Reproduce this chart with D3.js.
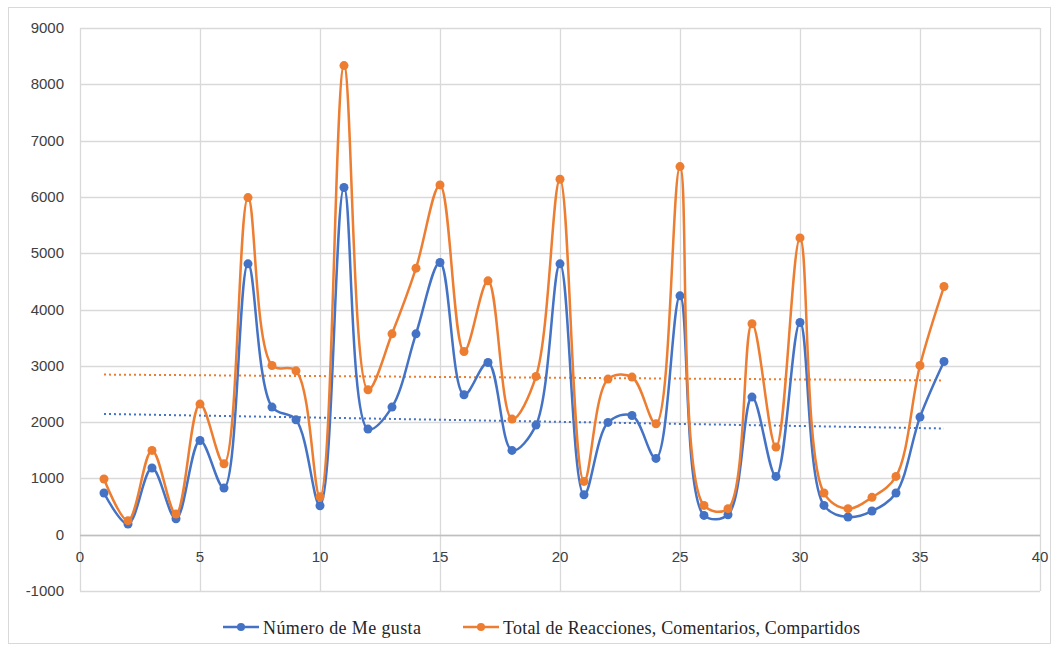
<!DOCTYPE html>
<html>
<head>
<meta charset="utf-8">
<script src="https://cdn.jsdelivr.net/npm/d3@7"></script>
<style>
    body { margin: 0; background: #fff; }
    svg { display: block; }
</style>
</head>
<body>
<div id="chart"></div>
<script>
var days = d3.range(1, 37);

var meGusta = [740, 190, 1184, 284, 1674, 829, 4811, 2267, 2041, 515,
    6166, 1876, 2267, 3568, 4834, 2485, 3059, 1497, 1947, 4811,
    710, 1994, 2118, 1355, 4243, 343, 355, 2444, 1035, 3769,
    520, 314, 420, 740, 2089, 3077];

var totalReacciones = [989, 249, 1497, 367, 2320, 1260, 5988, 3006, 2911, 675,
    8332, 2574, 3568, 4734, 6213, 3254, 4509, 2053, 2811, 6314,
    947, 2764, 2799, 1970, 6538, 520, 462, 3746, 1557, 5272,
    740, 462, 663, 1035, 3006, 4408];

var seriesNames = ['Número de Me gusta', 'Total de Reacciones, Comentarios, Compartidos'];
var seriesColors = ['#4472c4', '#ed7d31'];

var xTicks = [0, 5, 10, 15, 20, 25, 30, 35, 40];
var yTicks = [-1000, 0, 1000, 2000, 3000, 4000, 5000, 6000, 7000, 8000, 9000];

var width = 1059, height = 650;

var svg = d3.select('#chart').append('svg')
    .attr('width', width)
    .attr('height', height);

// outer chart frame
svg.append('rect')
    .attr('x', 8.5).attr('y', 7.5)
    .attr('width', 1042).attr('height', 636)
    .attr('fill', 'none')
    .attr('stroke', '#d9d9d9');

var x = d3.scaleLinear().domain([0, 40]).range([80, 1040]);
var y = d3.scaleLinear().domain([-1000, 9000]).range([591, 28]);

// grid
svg.append('g').selectAll('line').data(yTicks).join('line')
    .attr('x1', x(0)).attr('x2', x(40))
    .attr('y1', function(d) { return Math.round(y(d)) + 0.5; })
    .attr('y2', function(d) { return Math.round(y(d)) + 0.5; })
    .attr('stroke', '#d9d9d9')
    .attr('stroke-width', 1.3);

svg.append('g').selectAll('line').data(xTicks).join('line')
    .attr('y1', y(-1000)).attr('y2', y(9000))
    .attr('x1', function(d) { return Math.round(x(d)) + 0.5; })
    .attr('x2', function(d) { return Math.round(x(d)) + 0.5; })
    .attr('stroke', '#d9d9d9')
    .attr('stroke-width', 1.3);

// axis line at zero
svg.append('line')
    .attr('x1', x(0)).attr('x2', x(40))
    .attr('y1', Math.round(y(0)) + 0.5).attr('y2', Math.round(y(0)) + 0.5)
    .attr('stroke', '#bfbfbf')
    .attr('stroke-width', 1.3);

// tick labels
svg.append('g').selectAll('text').data(yTicks).join('text')
    .attr('x', 64)
    .attr('y', function(d) { return y(d) + 5; })
    .attr('text-anchor', 'end')
    .attr('font-family', 'Liberation Sans, Arial, sans-serif')
    .attr('font-size', 15)
    .attr('fill', '#404040')
    .text(function(d) { return d; });

svg.append('g').selectAll('text').data(xTicks).join('text')
    .attr('x', function(d) { return x(d); })
    .attr('y', 562)
    .attr('text-anchor', 'middle')
    .attr('font-family', 'Liberation Sans, Arial, sans-serif')
    .attr('font-size', 15)
    .attr('fill', '#404040')
    .text(function(d) { return d; });

// linear trend lines (least squares, like the spreadsheet)
var trend = function(vals) {
    var n = vals.length;
    var mx = d3.mean(days), my = d3.mean(vals);
    var sxy = 0, sxx = 0;
    for (var i = 0; i < n; i++) {
        sxy += (days[i] - mx) * (vals[i] - my);
        sxx += (days[i] - mx) * (days[i] - mx);
    }
    var b = sxy / sxx;
    var a = my - b * mx;
    return [[days[0], a + b * days[0]], [days[n - 1], a + b * days[n - 1]]];
};

var allSeries = [meGusta, totalReacciones];

allSeries.forEach(function(vals, k) {
    var t = trend(vals);
    svg.append('line')
        .attr('x1', x(t[0][0])).attr('y1', y(t[0][1]))
        .attr('x2', x(t[1][0])).attr('y2', y(t[1][1]))
        .attr('stroke', seriesColors[k])
        .attr('stroke-width', 2)
        .attr('stroke-dasharray', '2 3');
});

// centripetal catmull-rom keeps overshoot close to the spreadsheet smoothing
var line = d3.line()
    .x(function(d, i) { return x(days[i]); })
    .y(function(d) { return y(d); })
    .curve(d3.curveCatmullRom.alpha(0.5));

allSeries.forEach(function(vals, k) {
    var g = svg.append('g');
    g.append('path')
        .datum(vals)
        .attr('d', line)
        .attr('fill', 'none')
        .attr('stroke', seriesColors[k])
        .attr('stroke-width', 2.5)
        .attr('stroke-linejoin', 'round');
    g.selectAll('circle').data(vals).join('circle')
        .attr('cx', function(d, i) { return x(days[i]); })
        .attr('cy', function(d) { return y(d); })
        .attr('r', 4.5)
        .attr('fill', seriesColors[k]);
});

// legend
var legendX = [223, 463];
var legendLen = [158, 357];
var legend = svg.append('g');
seriesNames.forEach(function(name, k) {
    var lx = legendX[k];
    legend.append('line')
        .attr('x1', lx).attr('x2', lx + 36)
        .attr('y1', 627).attr('y2', 627)
        .attr('stroke', seriesColors[k])
        .attr('stroke-width', 2.5);
    legend.append('circle')
        .attr('cx', lx + 18).attr('cy', 627)
        .attr('r', 4)
        .attr('fill', seriesColors[k]);
    legend.append('text')
        .attr('x', lx + 40)
        .attr('y', 634)
        .attr('font-family', 'Liberation Serif, Times New Roman, serif')
        .attr('font-size', 18)
        .attr('textLength', legendLen[k])
        .attr('lengthAdjust', 'spacing')
        .attr('fill', '#262626')
        .text(name);
});
</script>
</body>
</html>
